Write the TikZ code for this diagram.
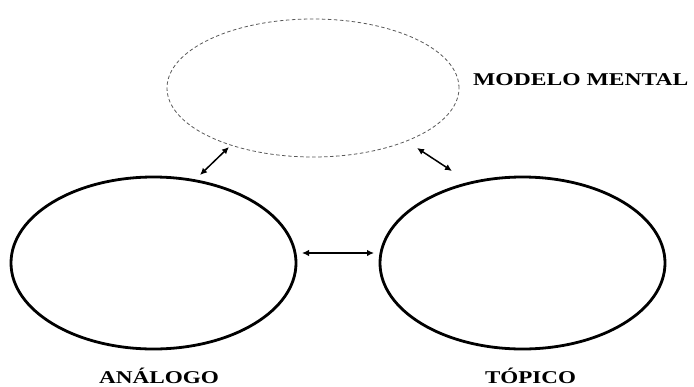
\documentclass[tikz,border=0pt]{standalone}
\usepackage{fontspec}
\setmainfont{Liberation Serif}
\usetikzlibrary{shapes.geometric,arrows.meta}

\tikzset{
  concept/.style={draw=black, ellipse, line width=2.8bp, inner sep=0pt,
                  minimum width=285bp, minimum height=172bp},
  mental/.style={draw=black!65, ellipse, dash pattern=on 3.5bp off 2.5bp,
                 line width=0.8bp, inner sep=0pt,
                 minimum width=292bp, minimum height=138bp},
  link/.style={{Latex[length=7bp,width=6.5bp]}-{Latex[length=7bp,width=6.5bp]},
               line width=1.5bp},
  caption/.style={inner sep=0pt, font=\fontsize{18bp}{20bp}\selectfont\bfseries}
}

\begin{document}
\begin{tikzpicture}[x=1bp, y=1bp]
  \useasboundingbox (0,0) rectangle (694,386);

  % the three models
  \node[mental]  (M) at (313,298) {};
  \node[concept] (L) at (153.5,123) {};
  \node[concept] (R) at (522.5,123) {};

  % labels
  \node[caption, anchor=base west] (tM) at (473,301) {\scalebox{1.31}[1]{MODELO MENTAL}};
  \node[caption, anchor=base] (tL) at (159,2.5) {\scalebox{1.29}[1]{ANÁLOGO}};
  \node[caption, anchor=base] (tR) at (530.5,2.5) {\scalebox{1.28}[1]{TÓPICO}};

  % two-way links between the models
  \draw[link] ([shift={(148.5,10)}]L.center) -- ([shift={(-148.5,10)}]R.center);
  \draw[link] ([shift={(46.5,88)}]L.center) -- ([shift={(-84,-59)}]M.center);
  \draw[link] ([shift={(104,-60)}]M.center) -- ([shift={(-70.5,92)}]R.center);
\end{tikzpicture}
\end{document}
